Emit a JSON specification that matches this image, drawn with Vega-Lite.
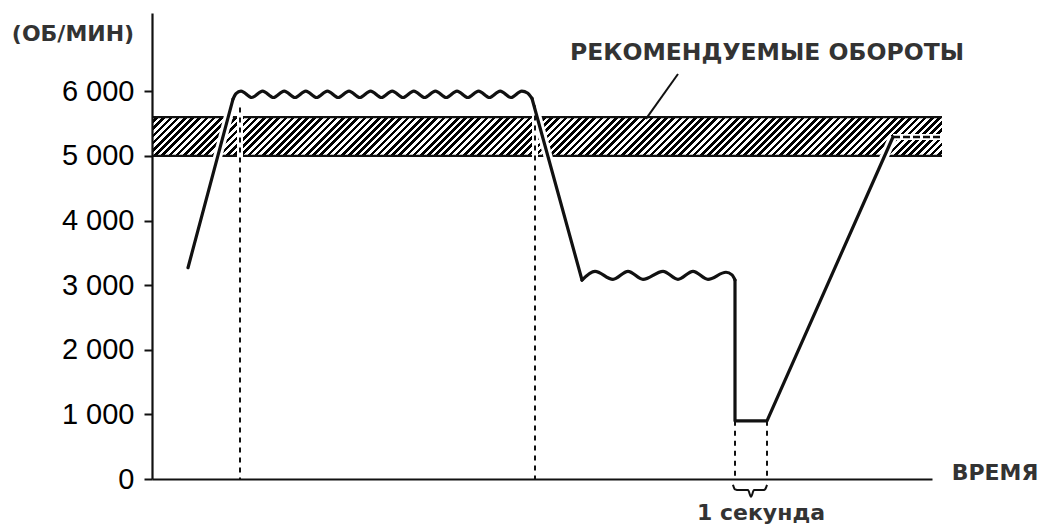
{
"$schema": "https://vega.github.io/schema/vega-lite/v6.json",
"width": 780,
"height": 466,
"autosize": {"type": "none"},
"padding": {"left": 152, "top": 13, "right": 112, "bottom": 47},
"background": "white",
"config": {
 "view": {"stroke": null},
 "axisY": {"domainColor": "#111", "domainWidth": 2.2, "tickColor": "#111", "tickWidth": 2, "tickSize": 8, "labelFont": "Liberation Sans", "labelFontSize": 29, "labelColor": "#000", "labelPadding": 10, "grid": false},
 "axisX": {"domainColor": "#111", "domainWidth": 2.2, "ticks": false, "labels": false, "grid": false}
},
"datasets": {
 "band": [
  {"t": 0, "t2": 158, "v": 5000, "v2": 5600},
  {"t": 158, "t2": 316, "v": 5000, "v2": 5600},
  {"t": 316, "t2": 474, "v": 5000, "v2": 5600},
  {"t": 474, "t2": 632, "v": 5000, "v2": 5600},
  {"t": 632, "t2": 790, "v": 5000, "v2": 5600}
 ],
 "borders": [
  {"t": 0, "t2": 790, "v": 5600},
  {"t": 0, "t2": 790, "v": 5000}
 ],
 "guides": [
  {"t": 88, "v": 5750, "v2": 0},
  {"t": 383, "v": 5780, "v2": 0},
  {"t": 583, "v": 900, "v2": 0},
  {"t": 615, "v": 900, "v2": 0}
 ],
 "ext": [{"t": 741, "t2": 790, "v": 5294}],
 "leader": [{"t": 526, "t2": 494, "v": 6269, "v2": 5573}],
 "straight": [
  {"seg": "a", "i": 1, "t": 36, "v": 3270},
  {"seg": "a", "i": 2, "t": 81, "v": 5880},
  {"seg": "b", "i": 1, "t": 380, "v": 5890},
  {"seg": "b", "i": 2, "t": 430, "v": 3080},
  {"seg": "c", "i": 1, "t": 583, "v": 3080},
  {"seg": "c", "i": 2, "t": 583, "v": 900},
  {"seg": "c", "i": 3, "t": 615, "v": 900},
  {"seg": "c", "i": 4, "t": 741, "v": 5294}
 ],
 "wave": [
  {"seg": "w1", "i": 1, "t": 81, "v": 5880},
  {"seg": "w1", "i": 2, "t": 84, "v": 5965},
  {"seg": "w1", "i": 3, "t": 89, "v": 6005},
  {"seg": "w1", "i": 4, "t": 99.8, "v": 5905},
  {"seg": "w1", "i": 5, "t": 110.6, "v": 6005},
  {"seg": "w1", "i": 6, "t": 121.4, "v": 5905},
  {"seg": "w1", "i": 7, "t": 132.2, "v": 6005},
  {"seg": "w1", "i": 8, "t": 143, "v": 5905},
  {"seg": "w1", "i": 9, "t": 153.8, "v": 6005},
  {"seg": "w1", "i": 10, "t": 164.6, "v": 5905},
  {"seg": "w1", "i": 11, "t": 175.4, "v": 6005},
  {"seg": "w1", "i": 12, "t": 186.2, "v": 5905},
  {"seg": "w1", "i": 13, "t": 197, "v": 6005},
  {"seg": "w1", "i": 14, "t": 207.8, "v": 5905},
  {"seg": "w1", "i": 15, "t": 218.6, "v": 6005},
  {"seg": "w1", "i": 16, "t": 229.4, "v": 5905},
  {"seg": "w1", "i": 17, "t": 240.2, "v": 6005},
  {"seg": "w1", "i": 18, "t": 251, "v": 5905},
  {"seg": "w1", "i": 19, "t": 261.8, "v": 6005},
  {"seg": "w1", "i": 20, "t": 272.6, "v": 5905},
  {"seg": "w1", "i": 21, "t": 283.4, "v": 6005},
  {"seg": "w1", "i": 22, "t": 294.2, "v": 5905},
  {"seg": "w1", "i": 23, "t": 305, "v": 6005},
  {"seg": "w1", "i": 24, "t": 315.8, "v": 5905},
  {"seg": "w1", "i": 25, "t": 326.6, "v": 6005},
  {"seg": "w1", "i": 26, "t": 337.4, "v": 5905},
  {"seg": "w1", "i": 27, "t": 348.2, "v": 6005},
  {"seg": "w1", "i": 28, "t": 359, "v": 5905},
  {"seg": "w1", "i": 29, "t": 369.8, "v": 6005},
  {"seg": "w1", "i": 30, "t": 375.5, "v": 5975},
  {"seg": "w1", "i": 31, "t": 380, "v": 5890},
  {"seg": "w2", "i": 1, "t": 430, "v": 3080},
  {"seg": "w2", "i": 2, "t": 443, "v": 3215},
  {"seg": "w2", "i": 3, "t": 461, "v": 3090},
  {"seg": "w2", "i": 4, "t": 476, "v": 3215},
  {"seg": "w2", "i": 5, "t": 491, "v": 3090},
  {"seg": "w2", "i": 6, "t": 511, "v": 3215},
  {"seg": "w2", "i": 7, "t": 526, "v": 3090},
  {"seg": "w2", "i": 8, "t": 541, "v": 3215},
  {"seg": "w2", "i": 9, "t": 556, "v": 3090},
  {"seg": "w2", "i": 10, "t": 574, "v": 3200},
  {"seg": "w2", "i": 11, "t": 580, "v": 3160},
  {"seg": "w2", "i": 12, "t": 583, "v": 3080}
 ],
 "brace": [
  {"i": 1, "t": 581, "v": -90},
  {"i": 2, "t": 583, "v": -160},
  {"i": 3, "t": 587, "v": -172},
  {"i": 4, "t": 596, "v": -172},
  {"i": 5, "t": 599, "v": -275},
  {"i": 6, "t": 602, "v": -172},
  {"i": 7, "t": 611, "v": -172},
  {"i": 8, "t": 613, "v": -160},
  {"i": 9, "t": 615, "v": -90}
 ],
 "notes": [
  {"t": -79, "v": 6780, "label": "(ОБ/МИН)"},
  {"t": 843, "v": -15, "label": "ВРЕМЯ"},
  {"t": 609, "v": -640, "label": "1 секунда"}
 ],
 "rec": [{"t": 615, "v": 6486, "label": "РЕКОМЕНДУЕМЫЕ ОБОРОТЫ"}]
},
"layer": [
 {
  "data": {"name": "band"},
  "mark": {"type": "rect", "strokeWidth": 0, "fill": {"gradient": "linear", "x1": 0, "y1": 0, "x2": 1.4291, "y2": 0.3506, "stops": [
   {"offset": 0, "color": "#fff"}, {"offset": 0.015, "color": "#fff"}, {"offset": 0.015, "color": "#000"}, {"offset": 0.03, "color": "#000"},
   {"offset": 0.03, "color": "#fff"}, {"offset": 0.045, "color": "#fff"}, {"offset": 0.045, "color": "#000"}, {"offset": 0.06, "color": "#000"},
   {"offset": 0.06, "color": "#fff"}, {"offset": 0.075, "color": "#fff"}, {"offset": 0.075, "color": "#000"}, {"offset": 0.09, "color": "#000"},
   {"offset": 0.09, "color": "#fff"}, {"offset": 0.105, "color": "#fff"}, {"offset": 0.105, "color": "#000"}, {"offset": 0.12, "color": "#000"},
   {"offset": 0.12, "color": "#fff"}, {"offset": 0.135, "color": "#fff"}, {"offset": 0.135, "color": "#000"}, {"offset": 0.15, "color": "#000"},
   {"offset": 0.15, "color": "#fff"}, {"offset": 0.165, "color": "#fff"}, {"offset": 0.165, "color": "#000"}, {"offset": 0.18, "color": "#000"},
   {"offset": 0.18, "color": "#fff"}, {"offset": 0.195, "color": "#fff"}, {"offset": 0.195, "color": "#000"}, {"offset": 0.21, "color": "#000"},
   {"offset": 0.21, "color": "#fff"}, {"offset": 0.225, "color": "#fff"}, {"offset": 0.225, "color": "#000"}, {"offset": 0.24, "color": "#000"},
   {"offset": 0.24, "color": "#fff"}, {"offset": 0.255, "color": "#fff"}, {"offset": 0.255, "color": "#000"}, {"offset": 0.27, "color": "#000"},
   {"offset": 0.27, "color": "#fff"}, {"offset": 0.285, "color": "#fff"}, {"offset": 0.285, "color": "#000"}, {"offset": 0.3, "color": "#000"},
   {"offset": 0.3, "color": "#fff"}, {"offset": 0.315, "color": "#fff"}, {"offset": 0.315, "color": "#000"}, {"offset": 0.33, "color": "#000"},
   {"offset": 0.33, "color": "#fff"}, {"offset": 0.345, "color": "#fff"}, {"offset": 0.345, "color": "#000"}, {"offset": 0.36, "color": "#000"},
   {"offset": 0.36, "color": "#fff"}, {"offset": 0.375, "color": "#fff"}, {"offset": 0.375, "color": "#000"}, {"offset": 0.39, "color": "#000"},
   {"offset": 0.39, "color": "#fff"}, {"offset": 0.405, "color": "#fff"}, {"offset": 0.405, "color": "#000"}, {"offset": 0.42, "color": "#000"},
   {"offset": 0.42, "color": "#fff"}, {"offset": 0.435, "color": "#fff"}, {"offset": 0.435, "color": "#000"}, {"offset": 0.45, "color": "#000"},
   {"offset": 0.45, "color": "#fff"}, {"offset": 0.465, "color": "#fff"}, {"offset": 0.465, "color": "#000"}, {"offset": 0.48, "color": "#000"},
   {"offset": 0.48, "color": "#fff"}, {"offset": 0.495, "color": "#fff"}, {"offset": 0.495, "color": "#000"}, {"offset": 0.51, "color": "#000"},
   {"offset": 0.51, "color": "#fff"}, {"offset": 0.525, "color": "#fff"}, {"offset": 0.525, "color": "#000"}, {"offset": 0.54, "color": "#000"},
   {"offset": 0.54, "color": "#fff"}, {"offset": 0.555, "color": "#fff"}, {"offset": 0.555, "color": "#000"}, {"offset": 0.57, "color": "#000"},
   {"offset": 0.57, "color": "#fff"}, {"offset": 0.585, "color": "#fff"}, {"offset": 0.585, "color": "#000"}, {"offset": 0.6, "color": "#000"},
   {"offset": 0.6, "color": "#fff"}, {"offset": 0.615, "color": "#fff"}, {"offset": 0.615, "color": "#000"}, {"offset": 0.63, "color": "#000"},
   {"offset": 0.63, "color": "#fff"}, {"offset": 0.645, "color": "#fff"}, {"offset": 0.645, "color": "#000"}, {"offset": 0.66, "color": "#000"},
   {"offset": 0.66, "color": "#fff"}, {"offset": 0.675, "color": "#fff"}, {"offset": 0.675, "color": "#000"}, {"offset": 0.69, "color": "#000"},
   {"offset": 0.69, "color": "#fff"}, {"offset": 0.705, "color": "#fff"}, {"offset": 0.705, "color": "#000"}, {"offset": 0.72, "color": "#000"},
   {"offset": 0.72, "color": "#fff"}, {"offset": 0.735, "color": "#fff"}, {"offset": 0.735, "color": "#000"}, {"offset": 0.75, "color": "#000"},
   {"offset": 0.75, "color": "#fff"}, {"offset": 0.765, "color": "#fff"}, {"offset": 0.765, "color": "#000"}, {"offset": 0.78, "color": "#000"},
   {"offset": 0.78, "color": "#fff"}, {"offset": 0.795, "color": "#fff"}, {"offset": 0.795, "color": "#000"}, {"offset": 0.81, "color": "#000"},
   {"offset": 0.81, "color": "#fff"}, {"offset": 0.825, "color": "#fff"}, {"offset": 0.825, "color": "#000"}, {"offset": 0.84, "color": "#000"},
   {"offset": 0.84, "color": "#fff"}, {"offset": 0.855, "color": "#fff"}, {"offset": 0.855, "color": "#000"}, {"offset": 0.87, "color": "#000"},
   {"offset": 0.87, "color": "#fff"}, {"offset": 1, "color": "#fff"}
  ]}},
  "encoding": {
   "x": {"field": "t", "type": "quantitative", "title": null, "scale": {"domain": [0, 780], "nice": false, "zero": false}, "axis": {"zindex": 1, "ticks": false, "labels": false, "domain": true}},
   "x2": {"field": "t2"},
   "y": {"field": "v", "type": "quantitative", "title": null, "scale": {"domain": [0, 7213], "nice": false, "zero": false}, "axis": {"zindex": 1, "values": [0, 1000, 2000, 3000, 4000, 5000, 6000], "labelExpr": "replace(format(datum.value, ','), ',', ' ')"}},
   "y2": {"field": "v2"}
  }
 },
 {
  "data": {"name": "borders"},
  "mark": {"type": "rule", "color": "#111", "strokeWidth": 2.2},
  "encoding": {"x": {"field": "t", "type": "quantitative", "title": null}, "x2": {"field": "t2"}, "y": {"field": "v", "type": "quantitative", "title": null}}
 },
 {
  "data": {"name": "guides"},
  "mark": {"type": "rule", "color": "white", "strokeWidth": 6},
  "encoding": {"x": {"field": "t", "type": "quantitative", "title": null}, "y": {"field": "v", "type": "quantitative", "title": null}, "y2": {"field": "v2"}}
 },
 {
  "data": {"name": "ext"},
  "mark": {"type": "rule", "color": "white", "strokeWidth": 6},
  "encoding": {"x": {"field": "t", "type": "quantitative", "title": null}, "x2": {"field": "t2"}, "y": {"field": "v", "type": "quantitative", "title": null}}
 },
 {
  "data": {"name": "straight"},
  "mark": {"type": "line", "color": "white", "strokeWidth": 9, "interpolate": "linear"},
  "encoding": {"x": {"field": "t", "type": "quantitative", "title": null}, "y": {"field": "v", "type": "quantitative", "title": null}, "detail": {"field": "seg"}, "order": {"field": "i", "type": "quantitative"}}
 },
 {
  "data": {"name": "guides"},
  "mark": {"type": "rule", "color": "#111", "strokeWidth": 2, "strokeDash": [5, 5]},
  "encoding": {"x": {"field": "t", "type": "quantitative", "title": null}, "y": {"field": "v", "type": "quantitative", "title": null}, "y2": {"field": "v2"}}
 },
 {
  "data": {"name": "ext"},
  "mark": {"type": "rule", "color": "#111", "strokeWidth": 2.5, "strokeDash": [7, 3]},
  "encoding": {"x": {"field": "t", "type": "quantitative", "title": null}, "x2": {"field": "t2"}, "y": {"field": "v", "type": "quantitative", "title": null}}
 },
 {
  "data": {"name": "straight"},
  "mark": {"type": "line", "color": "#111", "strokeWidth": 3.2, "interpolate": "linear", "strokeJoin": "round", "strokeCap": "round"},
  "encoding": {"x": {"field": "t", "type": "quantitative", "title": null}, "y": {"field": "v", "type": "quantitative", "title": null}, "detail": {"field": "seg"}, "order": {"field": "i", "type": "quantitative"}}
 },
 {
  "data": {"name": "wave"},
  "mark": {"type": "line", "color": "#111", "strokeWidth": 3.2, "interpolate": "monotone", "strokeJoin": "round", "strokeCap": "round"},
  "encoding": {"x": {"field": "t", "type": "quantitative", "title": null}, "y": {"field": "v", "type": "quantitative", "title": null}, "detail": {"field": "seg"}, "order": {"field": "i", "type": "quantitative"}}
 },
 {
  "data": {"name": "brace"},
  "mark": {"type": "line", "color": "#111", "strokeWidth": 2, "interpolate": "monotone"},
  "encoding": {"x": {"field": "t", "type": "quantitative", "title": null}, "y": {"field": "v", "type": "quantitative", "title": null}, "order": {"field": "i", "type": "quantitative"}}
 },
 {
  "data": {"name": "leader"},
  "mark": {"type": "rule", "color": "#111", "strokeWidth": 2},
  "encoding": {"x": {"field": "t", "type": "quantitative", "title": null}, "x2": {"field": "t2"}, "y": {"field": "v", "type": "quantitative", "title": null}, "y2": {"field": "v2"}}
 },
 {
  "data": {"name": "notes"},
  "mark": {"type": "text", "font": "DejaVu Sans", "fontWeight": "bold", "fontSize": 22, "color": "#333", "align": "center", "baseline": "alphabetic"},
  "encoding": {"x": {"field": "t", "type": "quantitative", "title": null}, "y": {"field": "v", "type": "quantitative", "title": null}, "text": {"field": "label"}}
 },
 {
  "data": {"name": "rec"},
  "mark": {"type": "text", "font": "DejaVu Sans", "fontWeight": "bold", "fontSize": 23.5, "color": "#333", "align": "center", "baseline": "alphabetic"},
  "encoding": {"x": {"field": "t", "type": "quantitative", "title": null}, "y": {"field": "v", "type": "quantitative", "title": null}, "text": {"field": "label"}}
 }
]
}
